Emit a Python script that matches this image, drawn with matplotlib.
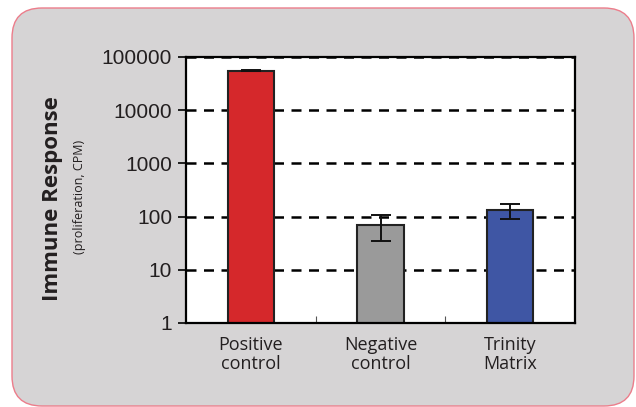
import matplotlib
matplotlib.use("Agg")
import matplotlib.pyplot as plt
import matplotlib.patches as mpatches
from matplotlib.ticker import FixedLocator, NullLocator

# data
categories = ["Positive\ncontrol", "Negative\ncontrol", "Trinity\nMatrix"]
response = [55000, 70, 135]
err_low = [1200, 35, 45]
err_high = [1200, 36, 35]
bar_colors = ["#d5282b", "#9a9a9a", "#3f56a4"]
yticks = [1, 10, 100, 1000, 10000, 100000]

W, H = 636, 407
fig = plt.figure(figsize=(W / 100, H / 100), dpi=100)
fig.patch.set_facecolor("white")

# background axes in pixel units for the rounded grey panel
bg = fig.add_axes([0, 0, 1, 1])
bg.set_xlim(0, W)
bg.set_ylim(H, 0)
bg.axis("off")
bg.add_patch(mpatches.FancyBboxPatch((12, 8), 622, 398,
                                     boxstyle="round,pad=0,rounding_size=30",
                                     facecolor="#d6d4d5", edgecolor="#ec7d8b",
                                     linewidth=1.0))

ax = fig.add_axes([186 / W, 1 - 323 / H, 389 / W, 266 / H])
ax.set_facecolor("white")

x = range(len(categories))
ax.bar(x, response, width=0.355, color=bar_colors, edgecolor="#222222",
       linewidth=1.5, zorder=3)
ax.errorbar(x, response, yerr=[err_low, err_high], fmt="none", ecolor="#111111",
            elinewidth=1.4, capsize=7, capthick=1.4, zorder=4)

ax.set_yscale("log")
ax.set_ylim(1, 100000)
ax.set_xlim(-0.5, 2.5)
ax.yaxis.set_major_locator(FixedLocator(yticks))
ax.yaxis.set_minor_locator(NullLocator())
ax.set_yticklabels([str(v) for v in yticks], family="Liberation Sans", fontsize=15,
                   color="#231f20")
ax.tick_params(axis="y", direction="out", length=6, width=1.2, pad=4)

ax.set_xticks(list(x))
ax.set_xticklabels(categories, family="Open Sans", fontsize=13, linespacing=1.1,
                   color="#231f20")
ax.tick_params(axis="x", length=0, pad=9)
ax.xaxis.set_minor_locator(FixedLocator([0.5, 1.5]))
ax.tick_params(axis="x", which="minor", direction="in", length=5, width=0.8, color="#555555")

for v in yticks[1:]:
    ax.axhline(v, color="black", linewidth=1.8, linestyle=(0, (4, 3)), zorder=1)

for s in ax.spines.values():
    s.set_linewidth(1.6)
    s.set_color("black")
    s.set_zorder(5)

fig.text(53 / W, 1 - 199 / H, "Immune Response", rotation=90, ha="center",
         va="center", fontsize=16, fontweight="bold", family="Open Sans",
         color="#231f20")
fig.text(80 / W, 1 - 197 / H, "(proliferation, CPM)", rotation=90, ha="center",
         va="center", fontsize=9, family="Open Sans", color="#231f20")

fig.savefig("out.png", dpi=100)
